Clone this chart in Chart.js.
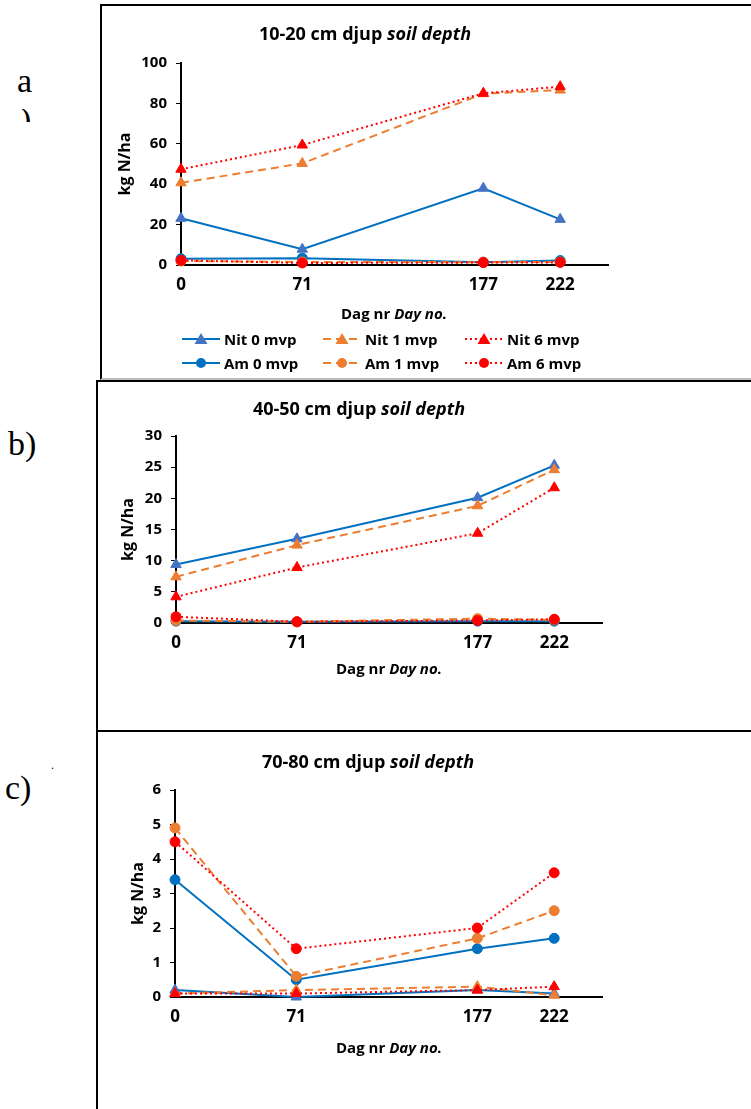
<!DOCTYPE html>
<html>
<head>
<meta charset="utf-8">
<script src="https://cdn.jsdelivr.net/npm/chart.js@4.4.1/dist/chart.umd.min.js"></script>
<style>
  body { margin: 0; background: #fff; width: 751px; height: 1109px; position: relative; overflow: hidden; font-family: "Open Sans", sans-serif; }
  canvas { position: absolute; left: 0; }
  .box { position: absolute; border: 2px solid #000; box-sizing: border-box; }
  .t { position: absolute; transform: translate(-50%, -50%); white-space: nowrap; font-weight: bold; color: #000; }
  .lab { position: absolute; font-family: "Liberation Serif", "Times New Roman", serif; font-size: 34px; color: #000; white-space: nowrap; }
  .leg { position: absolute; font-weight: bold; font-size: 15px; display: flex; align-items: center; white-space: nowrap; transform: translateY(-50%); }
  .leg svg { margin-right: 4px; }
</style>
</head>
<body>

<div class="box" style="left:100px;top:4px;width:700px;height:376px;border-bottom-color:#bbb"></div>
<div class="box" style="left:96px;top:380px;width:700px;height:352px"></div>
<div class="box" style="left:96px;top:730px;width:700px;height:500px"></div>

<div class="lab" style="left:17px;top:62px">a</div>
<div style="position:absolute;left:20px;top:109px;width:12px;height:13px;overflow:hidden"><div class="lab" style="left:0;top:-8px">)</div></div>
<div class="lab" style="left:8px;top:425px">b)</div>
<div class="lab" style="left:5px;top:769px">c)</div>
<div class="lab" style="left:51px;top:758px;font-size:12px">.</div>

<canvas id="chartA" width="751" height="378" style="top:0"></canvas>
<canvas id="chartB" width="751" height="349" style="top:381px"></canvas>
<canvas id="chartC" width="751" height="378" style="top:731px"></canvas>

<div class="t" style="left:365px;top:33px;font-size:18px">10-20 cm djup <i>soil depth</i></div>
<div class="t" style="left:394px;top:313px;font-size:15px">Dag nr <i>Day no.</i></div>
<div class="t" style="left:359px;top:408px;font-size:18px">40-50 cm djup <i>soil depth</i></div>
<div class="t" style="left:389px;top:668px;font-size:15px">Dag nr <i>Day no.</i></div>
<div class="t" style="left:368px;top:761px;font-size:18px">70-80 cm djup <i>soil depth</i></div>
<div class="t" style="left:389px;top:1047px;font-size:15px">Dag nr <i>Day no.</i></div>

<div id="legend"></div>

<script>
// days of sampling
const days = [0, 71, 177, 222]
const seriesNames = ['Nit 0 mvp', 'Nit 1 mvp', 'Nit 6 mvp', 'Am 0 mvp', 'Am 1 mvp', 'Am 6 mvp']

// 10-20 cm
const nit0A = [23.1, 7.8, 38.0, 22.6]
const nit1A = [40.7, 50.3, 84.8, 86.6]
const nit6A = [47.4, 59.4, 85.0, 88.3]
const am0A = [3.1, 3.4, 1.4, 2.2]
const am1A = [2.0, 1.5, 1.4, 1.5]
const am6A = [2.3, 1.0, 1.2, 1.3]

// 40-50 cm
const nit0B = [9.4, 13.5, 20.1, 25.3]
const nit1B = [7.4, 12.5, 18.8, 24.6]
const nit6B = [4.2, 8.9, 14.4, 21.7]
const am0B = [0.3, 0.2, 0.3, 0.3]
const am1B = [0.4, 0.2, 0.7, 0.5]
const am6B = [1.0, 0.2, 0.4, 0.6]

// 70-80 cm
const nit0C = [0.2, 0.0, 0.2, 0.1]
const nit1C = [0.1, 0.2, 0.3, 0.05]
const nit6C = [0.1, 0.1, 0.2, 0.3]
const am0C = [3.4, 0.5, 1.4, 1.7]
const am1C = [4.9, 0.6, 1.7, 2.5]
const am6C = [4.5, 1.4, 2.0, 3.6]

const lineCol = ['#0070C0', '#ED7D31', '#FF0000', '#0070C0', '#ED7D31', '#FF0000']
const markCol = ['#4472C4', '#ED7D31', '#FF0000', '#0070C0', '#ED7D31', '#FF0000']
const dashes = [[], [8, 5], [2, 3], [], [8, 5], [2, 3]]
const marks = ['triangle', 'triangle', 'triangle', 'circle', 'circle', 'circle']
const drawOrder = [2, 1, 0, 2, 1, 0]

const bold = (s) => ({ family: 'Open Sans', size: s, weight: 'bold' })

function makeChart(id, values, yMax, yStep, pad, yWidth) {
  const datasets = values.map((vals, i) => ({
    label: seriesNames[i],
    data: days.map((d, j) => ({ x: d, y: vals[j] })),
    borderColor: lineCol[i],
    backgroundColor: markCol[i],
    pointBorderColor: markCol[i],
    borderWidth: 2,
    borderDash: dashes[i],
    pointStyle: marks[i],
    pointRadius: marks[i] == 'triangle' ? 6 : 5,
    pointBorderWidth: 1,
    tension: 0,
    clip: false,
    order: drawOrder[i]
  }))
  new Chart(document.getElementById(id), {
    type: 'line',
    data: { datasets: datasets },
    options: {
      responsive: false,
      animation: false,
      devicePixelRatio: 1,
      layout: { padding: pad },
      plugins: { legend: { display: false }, tooltip: { enabled: false } },
      scales: {
        x: {
          type: 'linear',
          min: 0,
          max: 250,
          afterBuildTicks: s => { s.ticks = days.map(v => ({ value: v })) },
          afterFit: s => { s.height = 40 },
          ticks: { font: bold(17), color: '#000', padding: 2, autoSkip: false, maxRotation: 0 },
          grid: { display: false },
          border: { color: '#000', width: 2 }
        },
        y: {
          min: 0,
          max: yMax,
          afterFit: s => { s.width = yWidth },
          ticks: { stepSize: yStep, font: bold(15), color: '#000', padding: 9 },
          grid: { drawOnChartArea: false, drawTicks: true, tickLength: 5, color: '#000', lineWidth: 1 },
          border: { color: '#000', width: 2 },
          title: { display: true, text: 'kg N/ha', font: bold(16), color: '#000', padding: 4 }
        }
      }
    }
  })
}

makeChart('chartA', [nit0A, nit1A, nit6A, am0A, am1A, am6A], 100, 20,
  { left: 112, right: 143, top: 63, bottom: 73 }, 69)
makeChart('chartB', [nit0B, nit1B, nit6B, am0B, am1B, am6B], 30, 5,
  { left: 115, right: 149, top: 55, bottom: 67 }, 61)
makeChart('chartC', [nit0C, nit1C, nit6C, am0C, am1C, am6C], 6, 1,
  { left: 125, right: 149, top: 59, bottom: 72 }, 50)

// legend for the top panel
const legX = [182, 323, 465]
const legY = [339, 363]
let html = ''
seriesNames.forEach((name, i) => {
  const col = i % 3, row = Math.floor(i / 3)
  const dash = dashes[i].length ? `stroke-dasharray="${dashes[i].join(' ')}"` : ''
  const mk = marks[i] == 'triangle'
    ? `<polygon points="19,0 25.5,11 12.5,11" fill="${markCol[i]}"/>`
    : `<circle cx="19" cy="6" r="5" fill="${markCol[i]}"/>`
  html += `<div class="leg" style="left:${legX[col]}px;top:${legY[row]}px">` +
    `<svg width="38" height="12"><line x1="0" y1="6" x2="38" y2="6" stroke="${lineCol[i]}" stroke-width="2" ${dash}/>${mk}</svg>` +
    `${name}</div>`
})
document.getElementById('legend').innerHTML = html
</script>
</body>
</html>
